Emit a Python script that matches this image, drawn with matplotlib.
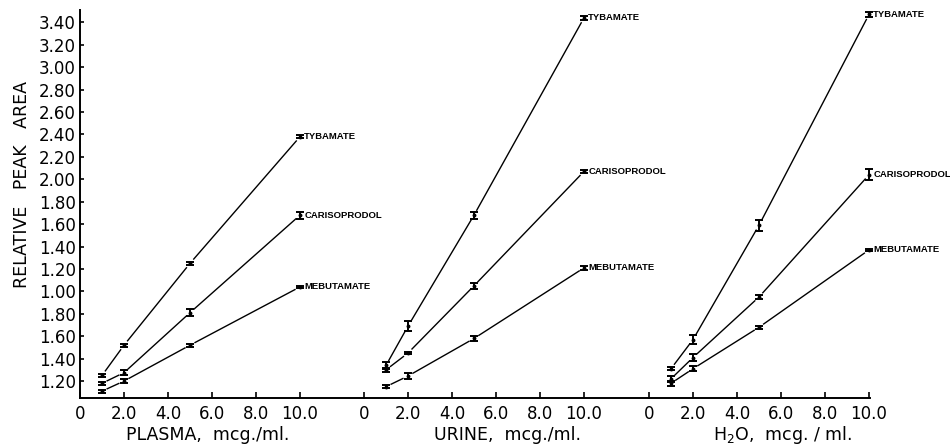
import matplotlib
matplotlib.use("Agg")
import matplotlib.pyplot as plt
import matplotlib.transforms as mtransforms
import numpy as np

# ---------------- data ----------------
concentrations = [1, 2, 5, 10]
compounds = ["TYBAMATE", "CARISOPRODOL", "MEBUTAMATE"]

plasma_tybamate = [0.25, 0.52, 1.25, 2.38]
plasma_carisoprodol = [0.18, 0.275, 0.81, 1.68]
plasma_mebutamate = [0.11, 0.20, 0.52, 1.04]
plasma_tybamate_err = [0.015, 0.015, 0.015, 0.012]
plasma_carisoprodol_err = [0.015, 0.02, 0.03, 0.03]
plasma_mebutamate_err = [0.012, 0.015, 0.015, 0.012]

urine_tybamate = [0.34, 0.69, 1.68, 3.44]
urine_carisoprodol = [0.30, 0.45, 1.05, 2.07]
urine_mebutamate = [0.15, 0.245, 0.58, 1.21]
urine_tybamate_err = [0.03, 0.045, 0.03, 0.015]
urine_carisoprodol_err = [0.02, 0.012, 0.025, 0.015]
urine_mebutamate_err = [0.012, 0.03, 0.02, 0.02]

water_tybamate = [0.31, 0.57, 1.59, 3.47]
water_carisoprodol = [0.22, 0.41, 0.95, 2.04]
water_mebutamate = [0.18, 0.31, 0.68, 1.37]
water_tybamate_err = [0.012, 0.04, 0.05, 0.025]
water_carisoprodol_err = [0.025, 0.03, 0.015, 0.05]
water_mebutamate_err = [0.02, 0.02, 0.012, 0.012]

y_tick_values = [0.2, 0.4, 0.6, 0.8, 1.0, 1.2, 1.4, 1.6, 1.8, 2.0, 2.2, 2.4,
                 2.6, 2.8, 3.0, 3.2, 3.4]
y_tick_labels = ["1.20", "1.40", "1.60", "1.80", "1.00", "1.20", "1.40", "1.60",
                 "1.80", "2.00", "2.20", "2.40", "2.60", "2.80", "3.00", "3.20", "3.40"]
x_tick_values = [0, 2, 4, 6, 8, 10]
x_tick_labels = ["0", "2.0", "4.0", "6.0", "8.0", "10.0"]
panel_labels = ["PLASMA,  mcg./ml.", "URINE,  mcg./ml.",
                r"H$_\mathregular{2}$O,  mcg. / ml."]

panels = [
    (plasma_tybamate, plasma_carisoprodol, plasma_mebutamate,
     plasma_tybamate_err, plasma_carisoprodol_err, plasma_mebutamate_err),
    (urine_tybamate, urine_carisoprodol, urine_mebutamate,
     urine_tybamate_err, urine_carisoprodol_err, urine_mebutamate_err),
    (water_tybamate, water_carisoprodol, water_mebutamate,
     water_tybamate_err, water_carisoprodol_err, water_mebutamate_err),
]

# ---------------- layout ----------------
plt.rcParams["font.family"] = ["DejaVu Sans"]
W, H = 950, 447
fig = plt.figure(figsize=(W / 100, H / 100), dpi=100)
fig.patch.set_facecolor("white")

px_per_unit = 22.0
bounds = [(80, 364), (364, 649), (649, 870)]
label_centers = [5.8, 6.5, 6.05]
ylim = (0.049, 3.51)

axes = []
for i, (l, r) in enumerate(bounds):
    ax = fig.add_axes([l / W, 49 / H, (r - l) / W, 388 / H])
    ax.set_xlim(0, (r - l) / px_per_unit)
    ax.set_ylim(*ylim)
    ax.patch.set_alpha(0)
    for s in ["top", "right"]:
        ax.spines[s].set_visible(False)
    ax.spines["bottom"].set_linewidth(1.4)
    ax.spines["left"].set_linewidth(1.4)
    if i > 0:
        ax.spines["left"].set_visible(False)
        ax.set_yticks([])
    else:
        ax.set_yticks(y_tick_values)
        ax.set_yticklabels(y_tick_labels)
        ax.tick_params(axis="y", direction="in", length=3, width=1.2,
                       pad=3, labelsize=12)
    ax.set_xticks(x_tick_values)
    ax.set_xticklabels(x_tick_labels)
    ax.tick_params(axis="x", direction="in", length=4, width=1.2,
                   pad=5, labelsize=12)
    axes.append(ax)

# ---------------- plotting ----------------
gap = 5.0  # px gap between line ends and markers
for ax, panel, xc, lab in zip(axes, panels, label_centers, panel_labels):
    ys = panel[:3]
    errs = panel[3:]
    for name, y, e in zip(compounds, ys, errs):
        pts = ax.transData.transform(np.column_stack([concentrations, y]))
        for a, b in zip(pts[:-1], pts[1:]):
            d = b - a
            n = np.hypot(*d)
            u = d / n
            seg = np.array([a + u * gap, b - u * gap])
            seg = ax.transData.inverted().transform(seg)
            ax.plot(seg[:, 0], seg[:, 1], color="black", lw=1.0,
                    solid_capstyle="butt")
        ax.errorbar(concentrations, y, yerr=e, fmt="o", ms=1.8,
                    color="black", ecolor="black", elinewidth=1.4,
                    capsize=3, capthick=1.4, clip_on=False)
        ax.annotate(name, (concentrations[-1], y[-1]), xytext=(3.0, 0),
                    textcoords="offset points", va="center", ha="left",
                    fontsize=6.8, fontweight="bold",
                    family=["Liberation Sans", "DejaVu Sans"],
                    annotation_clip=False)
    trans = mtransforms.blended_transform_factory(ax.transData, fig.transFigure)
    ax.text(xc, 12 / H, lab, transform=trans, ha="center", va="center",
            fontsize=12.5)

fig.text(22 / W, 1 - 185 / H, "RELATIVE   PEAK   AREA", rotation=90,
         ha="center", va="center", fontsize=12.5)

fig.savefig("out.png", dpi=100, facecolor="white")
